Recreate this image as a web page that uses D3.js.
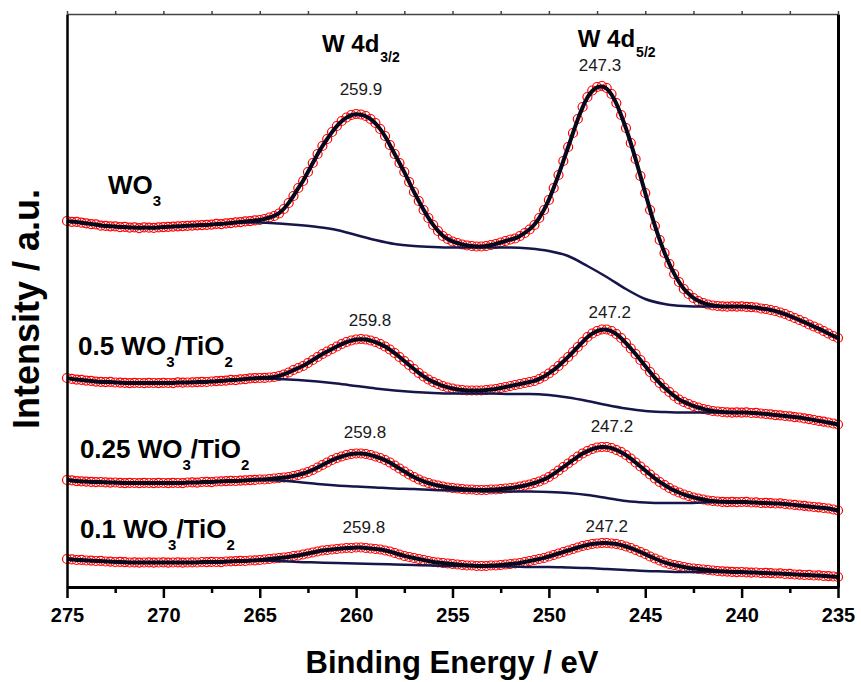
<!DOCTYPE html>
<html>
<head>
<meta charset="utf-8">
<title>W 4d XPS spectra</title>
<script src="https://d3js.org/d3.v7.min.js"></script>
<style>
  body { margin: 0; background: #fff; }
</style>
</head>
<body>
<script>
// binding energy grid of the measured points (0.25 eV step) and of the backgrounds (1 eV step)
var energy = d3.range(0, 161).map(i => 275 - i * 0.25)
var energyBg = d3.range(0, 41).map(i => 275 - i)

var wo3 = [3660,3652,3651,3643,3637,3628,3626,3613,3611,3607,
  3606,3598,3601,3594,3596,3589,3596,3593,3591,3596,
  3599,3602,3604,3607,3609,3612,3614,3617,3619,3621,
  3624,3631,3629,3636,3639,3646,3649,3656,3659,3666,
  3670,3680,3695,3710,3735,3780,3840,3910,3990,4060,
  4150,4240,4330,4410,4480,4550,4610,4660,4695,4720,
  4730,4725,4710,4680,4640,4580,4510,4420,4330,4240,
  4150,4050,3950,3860,3770,3690,3620,3560,3510,3480,
  3455,3440,3425,3415,3410,3405,3405,3410,3420,3430,
  3445,3460,3475,3485,3510,3540,3575,3620,3690,3770,
  3870,3990,4120,4260,4400,4540,4680,4800,4900,4965,
  5000,5010,4990,4930,4840,4720,4590,4440,4280,4110,
  3940,3770,3610,3470,3340,3230,3130,3050,2980,2930,
  2890,2860,2840,2825,2815,2810,2806,2803,2807,2804,
  2806,2801,2799,2795,2785,2780,2770,2760,2745,2730,
  2710,2690,2670,2650,2625,2605,2585,2560,2535,2510,
  2490]
var wt50 = [2090,2081,2074,2071,2064,2061,2054,2051,2049,2051,
  2045,2044,2041,2039,2041,2040,2038,2041,2040,2039,
  2041,2040,2039,2046,2044,2045,2046,2049,2051,2050,
  2055,2059,2061,2064,2071,2069,2076,2079,2086,2089,
  2090,2091,2095,2100,2110,2125,2145,2170,2190,2210,
  2240,2270,2300,2330,2355,2380,2405,2430,2450,2465,
  2475,2480,2475,2465,2450,2430,2405,2375,2340,2300,
  2260,2220,2180,2140,2105,2075,2050,2030,2010,1995,
  1985,1975,1970,1965,1965,1965,1965,1970,1975,1980,
  1990,2000,2010,2020,2030,2040,2050,2060,2080,2105,
  2135,2170,2210,2255,2300,2350,2400,2450,2500,2535,
  2560,2575,2575,2560,2530,2490,2440,2385,2330,2270,
  2210,2150,2090,2040,1990,1950,1910,1875,1850,1830,
  1810,1795,1780,1770,1760,1755,1750,1746,1744,1747,
  1744,1746,1740,1741,1735,1730,1726,1719,1716,1710,
  1706,1699,1695,1686,1679,1670,1661,1654,1645,1635,
  1625]
var wt25 = [1070,1066,1059,1056,1054,1051,1049,1050,1046,1044,
  1045,1041,1039,1041,1040,1038,1041,1040,1039,1041,
  1040,1039,1041,1040,1039,1045,1046,1044,1050,1051,
  1049,1055,1056,1059,1061,1060,1064,1066,1069,1071,
  1075,1075,1080,1085,1090,1095,1100,1110,1120,1135,
  1150,1170,1195,1220,1245,1270,1290,1305,1320,1330,
  1335,1335,1330,1320,1305,1290,1270,1245,1215,1185,
  1155,1125,1100,1075,1055,1040,1025,1015,1005,995,
  990,985,980,975,975,970,970,970,975,975,
  980,985,990,995,1005,1015,1025,1040,1055,1075,
  1100,1130,1165,1200,1235,1270,1305,1335,1360,1380,
  1395,1400,1400,1390,1370,1350,1320,1285,1245,1205,
  1165,1125,1085,1050,1020,990,965,945,925,910,
  895,885,875,865,860,855,851,849,852,848,
  850,851,845,846,840,841,839,835,836,830,
  825,821,815,811,805,800,796,790,785,775,
  765]
var wt10 = [280,276,270,271,265,264,260,261,255,254,
  250,251,249,245,246,244,245,246,244,245,
  246,244,245,246,244,245,246,245,250,249,
  251,250,249,255,256,259,261,260,265,266,
  270,275,280,285,290,295,300,310,315,325,
  335,345,355,365,370,375,380,385,390,390,
  395,395,390,385,380,375,365,355,340,325,
  310,300,290,280,270,260,250,245,240,235,
  230,225,220,215,215,210,210,210,215,215,
  220,225,230,235,240,250,260,270,280,290,
  305,320,335,350,365,380,395,410,420,430,
  435,440,440,435,430,420,405,390,370,350,
  330,305,285,265,245,230,220,210,200,190,
  185,180,175,170,165,160,156,154,151,149,
  150,146,144,145,140,141,139,135,136,130,
  131,125,124,120,121,115,116,110,109,105,
  100]

// Shirley backgrounds of the fits (a.u.), 1 eV step
var bgWo3 = [3660,3635,3610,3600,3595,3600,3610,3620,3630,3645,3645,3635,3620,3600,3570,3520,3470,3430,3410,3400,
  3395,3395,3395,3395,3385,3360,3310,3210,3100,2980,2880,2830,2810,2805,2805,2805,2785,2745,2670,2585,2490]
var bgWt50 = [2090,2065,2050,2040,2040,2040,2045,2050,2060,2075,2085,2080,2070,2055,2035,2010,1985,1965,1950,1940,
  1935,1935,1935,1930,1930,1920,1895,1860,1820,1785,1760,1750,1745,1745,1745,1745,1735,1715,1695,1660,1625]
var bgWt25 = [1070,1055,1045,1040,1040,1040,1040,1050,1055,1065,1070,1065,1050,1030,1015,1005,995,985,980,970,
  965,960,955,955,955,950,940,920,890,860,845,840,840,845,850,850,840,835,815,795,765]
var bgWt10 = [280,265,255,250,245,245,245,250,250,260,265,260,250,245,240,235,230,225,220,215,
  210,210,205,205,200,200,195,190,180,170,160,155,150,150,150,150,140,135,125,115,100]

// sample names (1 = subscript part) and peak labels
var sampleNames = [
  [["WO", 0], ["3", 1]],
  [["0.5 WO", 0], ["3", 1], ["/TiO", 0], ["2", 1]],
  [["0.25 WO", 0], ["3", 1], ["/TiO", 0], ["2", 1]],
  [["0.1 WO", 0], ["3", 1], ["/TiO", 0], ["2", 1]]
]
var sampleAt = [[272.87, 3930], [274.43, 2320], [274.33, 1290], [274.33, 490]]
var peakText = [["259.9", "247.3"], ["259.8", "247.2"], ["259.8", "247.2"], ["259.8", "247.2"]]
var peakAt = [[[259.75, 4920], [247.35, 5160]],
  [[259.28, 2610], [246.84, 2690]],
  [[259.54, 1495], [246.73, 1550]],
  [[259.6, 540], [247.0, 550]]]

var font = "Arial, 'Liberation Sans', sans-serif"
var width = 861
var height = 682

var svg = d3.select("body").append("svg")
  .attr("width", width)
  .attr("height", height)
  .attr("font-family", font)

var x = d3.scaleLinear().domain([275, 235]).range([67, 838])
var y = d3.scaleLinear().domain([0, 5730]).range([587, 14])

var line = d3.line().x(d => x(d[0])).y(d => y(d[1]))

var spectra = [wo3, wt50, wt25, wt10]
var backgrounds = [bgWo3, bgWt50, bgWt25, bgWt10]

spectra.forEach(function(s, k) {
  var pts = energy.map((e, i) => [e, s[i]])
  var bg = energyBg.map((e, i) => [e, backgrounds[k][i]])
  var g = svg.append("g")

  // raw data: open red circles
  g.selectAll("circle")
    .data(pts)
    .enter()
    .append("circle")
      .attr("cx", d => x(d[0]))
      .attr("cy", d => y(d[1]))
      .attr("r", 4.5)
      .attr("fill", "none")
      .attr("stroke", "#ff0000")
      .attr("stroke-width", 1.2)

  // background
  g.append("path")
    .datum(bg)
    .attr("d", line.curve(d3.curveMonotoneX))
    .attr("fill", "none")
    .attr("stroke", "#16164a")
    .attr("stroke-width", 2.5)

  // fitted envelope
  g.append("path")
    .datum(pts)
    .attr("d", line.curve(d3.curveBasis))
    .attr("fill", "none")
    .attr("stroke", "#08081c")
    .attr("stroke-width", 4)
})

// frame and axes
var gx = svg.append("g")
  .attr("transform", "translate(0,587)")
  .call(d3.axisBottom(x).tickValues(d3.range(235, 276, 5)).tickSize(11).tickPadding(10).tickSizeOuter(0))
gx.attr("font-family", font)
gx.select(".domain").attr("stroke-width", 3)
gx.selectAll(".tick line").attr("stroke-width", 2.5)
gx.selectAll(".tick text")
  .attr("font-size", 20)
  .attr("font-weight", "bold")
  .attr("fill", "#000")

svg.append("g")
  .attr("transform", "translate(0,587)")
  .call(d3.axisBottom(x).tickValues(d3.range(237.5, 275, 5)).tickSize(6).tickFormat("").tickSizeOuter(0))
  .call(g => g.select(".domain").remove())
  .selectAll(".tick line").attr("stroke-width", 2.5)

var gt = svg.append("g")
  .attr("transform", "translate(0,14)")
  .call(d3.axisTop(x).tickValues(d3.range(235, 275.1, 2.5)).tickSize(3).tickFormat("").tickSizeOuter(0))
gt.select(".domain").attr("stroke", "#444").attr("stroke-width", 1.5)
gt.selectAll(".tick line").attr("stroke", "#444").attr("stroke-width", 1.5)

svg.append("g")
  .attr("transform", "translate(67,0)")
  .call(d3.axisLeft(y).tickValues([]).tickSizeOuter(0))
  .select(".domain").attr("stroke-width", 2.5)

svg.append("g")
  .attr("transform", "translate(838,0)")
  .call(d3.axisRight(y).tickValues([]).tickSizeOuter(0))
  .select(".domain").attr("stroke-width", 3)

// axis titles
svg.append("text")
  .attr("x", 452)
  .attr("y", 673)
  .attr("text-anchor", "middle")
  .attr("font-size", 31)
  .attr("font-weight", "bold")
  .text("Binding Energy / eV")

svg.append("text")
  .attr("transform", "translate(39,309) rotate(-90)")
  .attr("text-anchor", "middle")
  .attr("font-size", 36)
  .attr("font-weight", "bold")
  .text("Intensity / a.u.")

// W 4d labels
var orbitals = [["3/2", 261.77, 5350], ["5/2", 248.5, 5400]]
orbitals.forEach(function(o) {
  var t = svg.append("text")
    .attr("x", x(o[1]))
    .attr("y", y(o[2]))
    .attr("font-size", 24)
    .attr("font-weight", "bold")
  t.append("tspan").text("W 4d")
  t.append("tspan").attr("font-size", 14).attr("dy", 10).attr("dx", 1).text(o[0])
})

// sample names with subscripts
sampleNames.forEach(function(parts, k) {
  var t = svg.append("text")
    .attr("x", x(sampleAt[k][0]))
    .attr("y", y(sampleAt[k][1]))
    .attr("font-size", 26)
    .attr("font-weight", "bold")
  var low = 0
  parts.forEach(function(p) {
    var sp = t.append("tspan").text(p[0])
    if (p[1]) {
      sp.attr("font-size", 15).attr("dy", 12 - low)
      low = 12
    } else {
      sp.attr("dy", -low)
      low = 0
    }
  })
})

// peak positions
peakText.forEach(function(pair, k) {
  pair.forEach(function(txt, j) {
    svg.append("text")
      .attr("x", x(peakAt[k][j][0]))
      .attr("y", y(peakAt[k][j][1]))
      .attr("text-anchor", "middle")
      .attr("font-size", 17)
      .attr("fill", "#1a1a1a")
      .text(txt)
  })
})
</script>
</body>
</html>
